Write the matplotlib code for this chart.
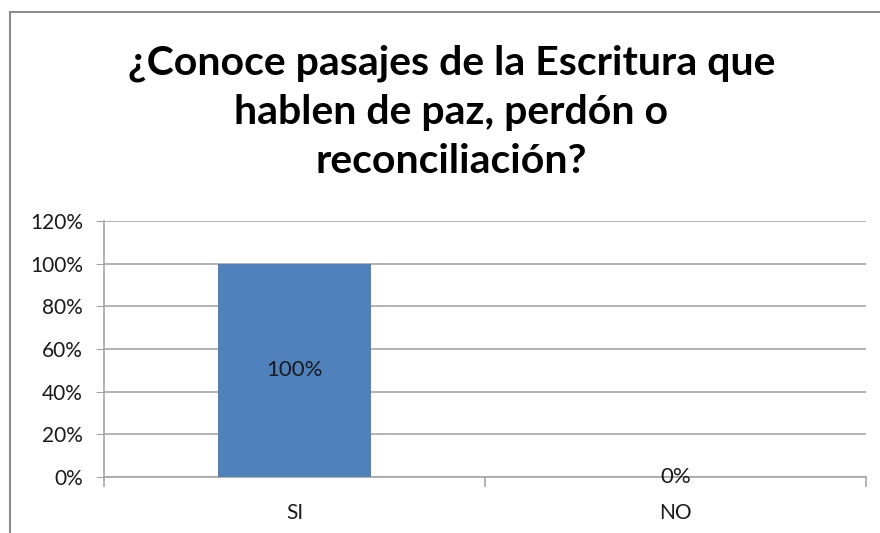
import matplotlib
matplotlib.use('Agg')
import matplotlib.pyplot as plt
from matplotlib.lines import Line2D
from matplotlib.ticker import PercentFormatter

categorias = ['SI', 'NO']
valores = [100, 0]  # porcentaje
etiquetas = ['100%', '0%']
titulo = '¿Conoce pasajes de la Escritura que\nhablen de paz, perdón o\nreconciliación?'

plt.rcParams['font.family'] = ['Lato', 'DejaVu Sans']

fig = plt.figure(figsize=(8.8, 5.33), dpi=100)
ax = fig.add_axes([0.118, 0.105, 0.866, 0.48])

x = range(len(categorias))
ax.bar(x, valores, width=0.4, color='#4f81bd', zorder=3)

# etiquetas de datos centradas en la barra
for i, v in enumerate(valores):
    ax.text(i, v / 2, etiquetas[i], ha='center', va='center', fontsize=16, color='#1a1a1a', zorder=4)

ax.set_xlim(-0.5, 1.5)
ax.set_ylim(0, 120)
ax.set_yticks(range(0, 121, 20))
ax.yaxis.set_major_formatter(PercentFormatter(decimals=0))
ax.set_xticks(x)
ax.set_xticklabels(categorias)
ax.set_xticks([-0.5, 0.5, 1.5], minor=True)

ax.grid(axis='y', color='#a6a6a6', linewidth=1.2, zorder=0)
for s in ['top', 'right']:
    ax.spines[s].set_visible(False)
ax.spines['left'].set_color('#a6a6a6')
ax.spines['bottom'].set_color('#a6a6a6')
ax.spines['left'].set_linewidth(1.2)
ax.spines['bottom'].set_linewidth(1.2)

ax.tick_params(axis='y', length=6, color='#a6a6a6', labelsize=15, labelcolor='#1a1a1a', pad=9)
ax.tick_params(axis='x', which='major', length=0, labelsize=15, labelcolor='#1a1a1a', pad=19)
ax.tick_params(axis='x', which='minor', length=7, color='#a6a6a6', width=1.2)

fig.text(0.513, 0.79, titulo, ha='center', va='center', fontsize=29.5,
         fontweight='bold', linespacing=1.4, color='#000000')

# borde del gráfico (solo arriba e izquierda visibles)
fig.add_artist(Line2D([0.011, 0.011], [0, 0.978], transform=fig.transFigure, color='#8c8c8c', linewidth=1.5))
fig.add_artist(Line2D([0.011, 1.0], [0.978, 0.978], transform=fig.transFigure, color='#8c8c8c', linewidth=1.5))

plt.savefig('out.png', dpi=100)
